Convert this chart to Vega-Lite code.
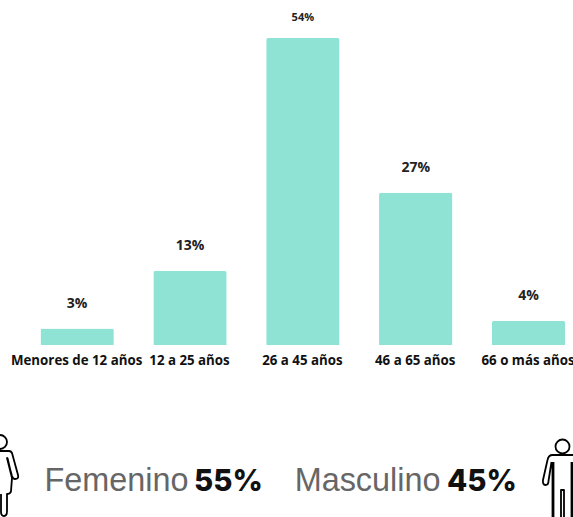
{
  "$schema": "https://vega.github.io/schema/vega-lite/v6.json",
  "width": 573, "height": 517, "padding": 0, "autosize": {"type": "none"},
  "background": "white",
  "view": {"stroke": null},
  "datasets": {
    "edad": [
      {"grupo": "Menores de 12 años", "pct": 2.9, "label": "3%", "fila": "a"},
      {"grupo": "12 a 25 años", "pct": 13, "label": "13%", "fila": "a"},
      {"grupo": "26 a 45 años", "pct": 54, "label": "54%", "fila": "a"},
      {"grupo": "46 a 65 años", "pct": 26.8, "label": "27%", "fila": "a"},
      {"grupo": "66 o más años", "pct": 4.2, "label": "4%", "fila": "a"}
    ],
    "genero": [
      {"genero": "Femenino", "pct": "55%", "fila": "a"},
      {"genero": "Masculino", "pct": "45%", "fila": "a"}
    ]
  },
  "resolve": {"scale": {"x": "independent", "y": "independent", "shape": "independent"}, "axis": {"x": "independent", "y": "independent"}},
  "layer": [
    {
      "data": {"name": "edad"},
      "mark": {"type": "bar", "color": "#8FE3D5", "cornerRadiusTopLeft": 2, "cornerRadiusTopRight": 2},
      "encoding": {
        "x": {"field": "grupo", "type": "nominal", "sort": null, "axis": null, "scale": {"range": [20.7, 585], "paddingInner": 0.35, "paddingOuter": 0.175}},
        "y": {"field": "pct", "type": "quantitative", "axis": null, "scale": {"domain": [0, 54], "range": [345, 38], "nice": false}}
      }
    },
    {
      "data": {"name": "edad"},
      "transform": [{"filter": "datum.label !== '54%'"}],
      "mark": {"type": "text", "font": "Open Sans", "fontWeight": 700, "fontSize": 14, "color": "#222222", "dy": -25},
      "encoding": {
        "x": {"field": "grupo", "type": "nominal", "axis": null, "scale": {"domain": ["Menores de 12 años", "12 a 25 años", "26 a 45 años", "46 a 65 años", "66 o más años"], "range": [20.7, 585], "paddingInner": 0.35, "paddingOuter": 0.175}},
        "y": {"field": "pct", "type": "quantitative", "axis": null, "scale": {"domain": [0, 54], "range": [345, 38], "nice": false}},
        "text": {"field": "label"}
      }
    },
    {
      "data": {"name": "edad"},
      "transform": [{"filter": "datum.label === '54%'"}],
      "mark": {"type": "text", "font": "Open Sans", "fontWeight": 700, "fontSize": 11, "color": "#222222", "dy": -20},
      "encoding": {
        "x": {"field": "grupo", "type": "nominal", "axis": null, "scale": {"domain": ["Menores de 12 años", "12 a 25 años", "26 a 45 años", "46 a 65 años", "66 o más años"], "range": [20.7, 585], "paddingInner": 0.35, "paddingOuter": 0.175}},
        "y": {"field": "pct", "type": "quantitative", "axis": null, "scale": {"domain": [0, 54], "range": [345, 38], "nice": false}},
        "text": {"field": "label"}
      }
    },
    {
      "data": {"name": "edad"},
      "mark": {"type": "text", "font": "Open Sans", "fontWeight": 700, "fontSize": 13.3, "color": "#111111", "baseline": "middle"},
      "encoding": {
        "x": {"field": "grupo", "type": "nominal", "axis": null, "scale": {"domain": ["Menores de 12 años", "12 a 25 años", "26 a 45 años", "46 a 65 años", "66 o más años"], "range": [20.2, 584.5], "paddingInner": 0.35, "paddingOuter": 0.175}},
        "y": {"field": "fila", "type": "nominal", "axis": null, "scale": {"type": "point", "range": [361, 361]}},
        "text": {"field": "grupo"}
      }
    },
    {
      "data": {"name": "genero"},
      "mark": {"type": "text", "font": "Liberation Sans", "fontSize": 32.4, "color": "#666666", "align": "right", "baseline": "alphabetic"},
      "encoding": {
        "x": {"field": "genero", "type": "nominal", "axis": null, "scale": {"type": "point", "domain": ["Femenino", "Masculino"], "range": [188.5, 440.5], "padding": 0}},
        "y": {"field": "fila", "type": "nominal", "axis": null, "scale": {"type": "point", "range": [491, 491]}},
        "text": {"field": "genero"}
      }
    },
    {
      "data": {"name": "genero"},
      "mark": {"type": "text", "font": "Inter", "fontWeight": 800, "fontSize": 29.5, "color": "#111111", "align": "left", "baseline": "alphabetic"},
      "encoding": {
        "x": {"field": "genero", "type": "nominal", "axis": null, "scale": {"type": "point", "domain": ["Femenino", "Masculino"], "range": [194, 447], "padding": 0}},
        "y": {"field": "fila", "type": "nominal", "axis": null, "scale": {"type": "point", "range": [491, 491]}},
        "text": {"field": "pct"}
      }
    },
    {
      "data": {"name": "genero"},
      "mark": {"type": "point", "filled": false, "stroke": "#000000", "strokeWidth": 1.8, "opacity": 1, "size": 4, "strokeJoin": "round"},
      "encoding": {
        "x": {"field": "genero", "type": "nominal", "axis": null, "scale": {"type": "point", "domain": ["Femenino", "Masculino"], "range": [0, 562.5], "padding": 0}},
        "y": {"field": "fila", "type": "nominal", "axis": null, "scale": {"type": "point", "range": [470, 470]}},
        "shape": {"field": "genero", "type": "nominal", "legend": null, "scale": {"domain": ["Femenino", "Masculino"], "range": [
          "M7,-28 A7,7 0 1 1 -7,-28 A7,7 0 1 1 7,-28 Z M-9,-19 L9,-19 Q11,-19 12,-17 L18,5 Q19,9 15,9 Q13,9 12,6 L7,-12 L12,8 L11,21 Q11,23 8,24 L7,24 L7,41 Q7,46 4,46 Q1,46 1,42 L1,24 M7.5,-12 L11,3",
          "M7,-23.5 A7,7 0 1 1 -7,-23.5 A7,7 0 1 1 7,-23.5 Z M10,-15 L-10,-15 Q-14,-15 -15,-10 L-19.5,10 Q-20,15 -17,15 Q-14,15 -14,11 L-11,-8 M-10,-8 L-10,50 M-9,-8 L-9,50 M-1.5,50 L-1.5,20 L1.5,20 L1.5,50 M9,-8 L9,50 M10,-8 L10,50 M10,-15 Q14,-15 15,-10 L19.5,10"
        ]}}
      }
    }
  ]
}
